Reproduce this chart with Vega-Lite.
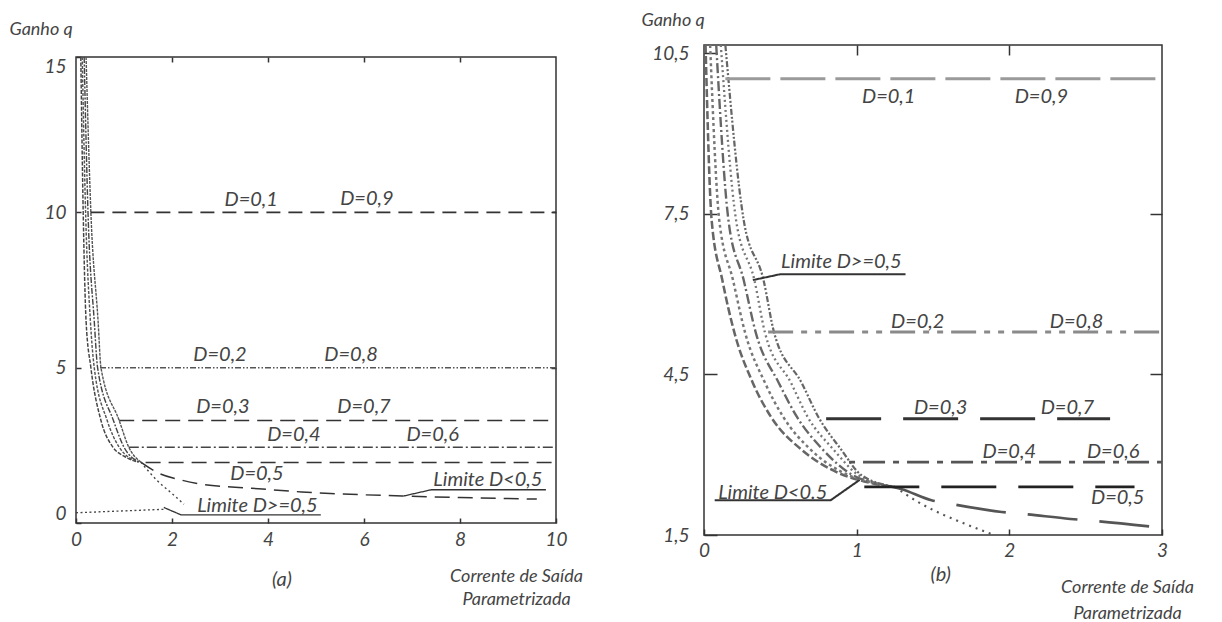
{
  "$schema": "https://vega.github.io/schema/vega-lite/v6.json",
  "background": "white",
  "padding": {"left": 8, "top": 10, "right": 0, "bottom": 0},
  "spacing": 148,
  "bounds": "flush",
  "center": true,
  "datasets": {
    "aLines": [
      {"s": "q10", "x": 0.3, "q": 10}, {"s": "q10", "x": 10, "q": 10},
      {"s": "q5", "x": 0.5, "q": 5}, {"s": "q5", "x": 10, "q": 5},
      {"s": "q33", "x": 0.9, "q": 3.3}, {"s": "q33", "x": 10, "q": 3.3},
      {"s": "q25", "x": 1.1, "q": 2.44}, {"s": "q25", "x": 10, "q": 2.44},
      {"s": "q2", "x": 1.45, "q": 1.95}, {"s": "q2", "x": 10, "q": 1.95},
      {"s": "d05", "x": 1.35, "q": 1.96}, {"s": "d05", "x": 1.7, "q": 1.62}, {"s": "d05", "x": 2.2, "q": 1.38}, {"s": "d05", "x": 2.6, "q": 1.25}, {"s": "d05", "x": 3.65, "q": 1.12}, {"s": "d05", "x": 4.7, "q": 1.0}, {"s": "d05", "x": 5.3, "q": 0.95}, {"s": "d05", "x": 6.8, "q": 0.87}, {"s": "d05", "x": 8.0, "q": 0.82}, {"s": "d05", "x": 9.6, "q": 0.77},
      {"s": "b1", "x": 0.10, "q": 15}, {"s": "b1", "x": 0.15, "q": 10}, {"s": "b1", "x": 0.21, "q": 6.5}, {"s": "b1", "x": 0.31, "q": 5}, {"s": "b1", "x": 0.52, "q": 3.3}, {"s": "b1", "x": 0.77, "q": 2.44}, {"s": "b1", "x": 1.0, "q": 2.15}, {"s": "b1", "x": 1.3, "q": 1.96},
      {"s": "b2", "x": 0.13, "q": 15}, {"s": "b2", "x": 0.2, "q": 10}, {"s": "b2", "x": 0.3, "q": 6.5}, {"s": "b2", "x": 0.38, "q": 5}, {"s": "b2", "x": 0.65, "q": 3.3}, {"s": "b2", "x": 0.9, "q": 2.44}, {"s": "b2", "x": 1.3, "q": 1.96},
      {"s": "b3", "x": 0.17, "q": 15}, {"s": "b3", "x": 0.25, "q": 10}, {"s": "b3", "x": 0.38, "q": 6.5}, {"s": "b3", "x": 0.45, "q": 5}, {"s": "b3", "x": 0.78, "q": 3.3}, {"s": "b3", "x": 1.0, "q": 2.44}, {"s": "b3", "x": 1.32, "q": 1.96},
      {"s": "b4", "x": 0.21, "q": 15}, {"s": "b4", "x": 0.31, "q": 10}, {"s": "b4", "x": 0.46, "q": 6.5}, {"s": "b4", "x": 0.52, "q": 5}, {"s": "b4", "x": 0.9, "q": 3.3}, {"s": "b4", "x": 1.1, "q": 2.44}, {"s": "b4", "x": 1.35, "q": 1.96},
      {"s": "dot", "x": 1.35, "q": 1.96}, {"s": "dot", "x": 1.7, "q": 1.35}, {"s": "dot", "x": 2.0, "q": 0.95}, {"s": "dot", "x": 2.25, "q": 0.6},
      {"s": "zero", "x": 0.0, "q": 0.33}, {"s": "zero", "x": 1.83, "q": 0.44},
      {"s": "lead1", "x": 1.83, "q": 0.5}, {"s": "lead1", "x": 2.19, "q": 0.26}, {"s": "lead1", "x": 5.1, "q": 0.26},
      {"s": "lead2", "x": 6.83, "q": 0.87}, {"s": "lead2", "x": 7.4, "q": 1.07}, {"s": "lead2", "x": 9.79, "q": 1.07}
    ],
    "aText": [
      {"t": "D=0,1", "x": 3.65, "q": 10.4}, {"t": "D=0,9", "x": 6.06, "q": 10.43},
      {"t": "D=0,2", "x": 3.0, "q": 5.4}, {"t": "D=0,8", "x": 5.73, "q": 5.4},
      {"t": "D=0,3", "x": 3.06, "q": 3.73}, {"t": "D=0,7", "x": 6.0, "q": 3.73},
      {"t": "D=0,4", "x": 4.54, "q": 2.83}, {"t": "D=0,6", "x": 7.43, "q": 2.83},
      {"t": "D=0,5", "x": 3.77, "q": 1.58},
      {"t": "Limite D<0,5", "x": 8.58, "q": 1.39},
      {"t": "Limite D>=0,5", "x": 3.78, "q": 0.55},
      {"t": "(a)", "x": 4.29, "q": -1.83}
    ],
    "bLines": [
      {"s": "q10", "x": 0.14, "q": 10.02}, {"s": "q10", "x": 3, "q": 10.02},
      {"s": "q5", "x": 0.42, "q": 5.29}, {"s": "q5", "x": 3, "q": 5.29},
      {"s": "q37", "x": 0.8, "q": 3.67}, {"s": "q37", "x": 2.66, "q": 3.67},
      {"s": "q29", "x": 0.95, "q": 2.86}, {"s": "q29", "x": 3, "q": 2.86},
      {"s": "q24", "x": 1.05, "q": 2.4}, {"s": "q24", "x": 2.82, "q": 2.4},
      {"s": "d05", "x": 1.2, "q": 2.42}, {"s": "d05", "x": 1.29, "q": 2.36}, {"s": "d05", "x": 1.49, "q": 2.15}, {"s": "d05", "x": 1.62, "q": 2.08}, {"s": "d05", "x": 1.95, "q": 1.93}, {"s": "d05", "x": 2.1, "q": 1.89}, {"s": "d05", "x": 2.4, "q": 1.8}, {"s": "d05", "x": 2.57, "q": 1.76}, {"s": "d05", "x": 2.95, "q": 1.65},
      {"s": "b1", "x": 0.01, "q": 10.65}, {"s": "b1", "x": 0.05, "q": 7.38}, {"s": "b1", "x": 0.12, "q": 6.26}, {"s": "b1", "x": 0.2, "q": 5.27}, {"s": "b1", "x": 0.32, "q": 4.34}, {"s": "b1", "x": 0.44, "q": 3.7}, {"s": "b1", "x": 0.64, "q": 3.09}, {"s": "b1", "x": 0.85, "q": 2.7}, {"s": "b1", "x": 1.05, "q": 2.5}, {"s": "b1", "x": 1.2, "q": 2.42},
      {"s": "b2", "x": 0.04, "q": 10.65}, {"s": "b2", "x": 0.1, "q": 7.38}, {"s": "b2", "x": 0.19, "q": 6.26}, {"s": "b2", "x": 0.27, "q": 5.27}, {"s": "b2", "x": 0.4, "q": 4.34}, {"s": "b2", "x": 0.52, "q": 3.7}, {"s": "b2", "x": 0.7, "q": 3.09}, {"s": "b2", "x": 0.9, "q": 2.68}, {"s": "b2", "x": 1.1, "q": 2.48},
      {"s": "b3", "x": 0.08, "q": 10.65}, {"s": "b3", "x": 0.16, "q": 7.38}, {"s": "b3", "x": 0.26, "q": 6.26}, {"s": "b3", "x": 0.34, "q": 5.27}, {"s": "b3", "x": 0.49, "q": 4.34}, {"s": "b3", "x": 0.61, "q": 3.7}, {"s": "b3", "x": 0.78, "q": 3.09}, {"s": "b3", "x": 0.95, "q": 2.66}, {"s": "b3", "x": 1.15, "q": 2.45},
      {"s": "b4", "x": 0.11, "q": 10.65}, {"s": "b4", "x": 0.21, "q": 7.38}, {"s": "b4", "x": 0.33, "q": 6.26}, {"s": "b4", "x": 0.4, "q": 5.27}, {"s": "b4", "x": 0.57, "q": 4.34}, {"s": "b4", "x": 0.68, "q": 3.7}, {"s": "b4", "x": 0.85, "q": 3.09}, {"s": "b4", "x": 1.0, "q": 2.64}, {"s": "b4", "x": 1.2, "q": 2.42},
      {"s": "b5", "x": 0.14, "q": 10.65}, {"s": "b5", "x": 0.26, "q": 7.38}, {"s": "b5", "x": 0.39, "q": 6.26}, {"s": "b5", "x": 0.46, "q": 5.27}, {"s": "b5", "x": 0.64, "q": 4.34}, {"s": "b5", "x": 0.75, "q": 3.7}, {"s": "b5", "x": 0.9, "q": 3.09}, {"s": "b5", "x": 1.03, "q": 2.62}, {"s": "b5", "x": 1.25, "q": 2.4},
      {"s": "dot", "x": 1.25, "q": 2.4}, {"s": "dot", "x": 1.4, "q": 2.12}, {"s": "dot", "x": 1.55, "q": 1.9}, {"s": "dot", "x": 1.7, "q": 1.72}, {"s": "dot", "x": 1.88, "q": 1.52},
      {"s": "lead1", "x": 0.07, "q": 2.15}, {"s": "lead1", "x": 0.83, "q": 2.15}, {"s": "lead1", "x": 1.02, "q": 2.53},
      {"s": "lead2", "x": 0.32, "q": 6.26}, {"s": "lead2", "x": 0.5, "q": 6.37}, {"s": "lead2", "x": 1.32, "q": 6.37}
    ],
    "bText": [
      {"t": "D=0,1", "x": 1.21, "q": 9.68}, {"t": "D=0,9", "x": 2.21, "q": 9.68},
      {"t": "D=0,2", "x": 1.4, "q": 5.48}, {"t": "D=0,8", "x": 2.44, "q": 5.48},
      {"t": "D=0,3", "x": 1.55, "q": 3.87}, {"t": "D=0,7", "x": 2.38, "q": 3.87},
      {"t": "D=0,4", "x": 2.0, "q": 3.05}, {"t": "D=0,6", "x": 2.68, "q": 3.05},
      {"t": "D=0,5", "x": 2.71, "q": 2.19},
      {"t": "Limite D<0.5", "x": 0.45, "q": 2.29},
      {"t": "Limite D>=0,5", "x": 0.9, "q": 6.6},
      {"t": "(b)", "x": 1.55, "q": 0.75}
    ]
  },
  "hconcat": [
    {
      "width": 480,
      "height": 466,
      "layer": [
        {
          "data": {"name": "aLines"},
          "transform": [{"filter": {"field": "s", "oneOf": ["d05", "b1", "b2", "b3", "b4", "dot"]}}],
          "mark": {"type": "line", "interpolate": "monotone"},
          "encoding": {
            "x": {"field": "x", "type": "quantitative", "scale": {"domain": [0, 10], "nice": false, "zero": false},
              "axis": {"orient": "bottom", "values": [0, 2, 4, 6, 8, 10], "tickSize": -5, "labelPadding": 12, "labelFlush": false,
                "title": ["Corrente de Saída", "Parametrizada"], "titleX": 440, "titleY": 44, "titleAlign": "center", "titleBaseline": "top", "titleLineHeight": 23}},
            "y": {"field": "q", "type": "quantitative", "scale": {"domain": [0, 15], "nice": false, "zero": false},
              "axis": {"orient": "left", "values": [0, 5, 10, 15], "tickSize": -5, "labelPadding": 15, "labelFlush": true,
                "title": "Ganho q", "titleAngle": 0, "titleAlign": "left", "titleBaseline": "middle", "titleX": -67, "titleY": -28}},
            "detail": {"field": "s"},
            "color": {"field": "s", "type": "nominal", "legend": null, "scale": {"domain": ["q10","q5","q33","q25","q2","d05","b1","b2","b3","b4","dot","zero","lead1","lead2"], "range": ["#333","#555","#333","#444","#333","#333","#444","#555","#444","#555","#444","#444","#333","#333"]}},
            "strokeDash": {"field": "s", "type": "nominal", "legend": null, "scale": {"domain": ["q10","q5","q33","q25","q2","d05","b1","b2","b3","b4","dot","zero","lead1","lead2"], "range": [[14,8],[6,2,1.5,2,1.5,2],[15,8],[10,3,2,3],[15,8],[15,8],[4,1.5],[3,1.5],[6,1.5,2,1.5],[3,1],[2,3],[2,2.5],[1,0],[1,0]]}},
            "strokeWidth": {"field": "s", "type": "nominal", "legend": null, "scale": {"domain": ["q10","q5","q33","q25","q2","d05","b1","b2","b3","b4","dot","zero","lead1","lead2"], "range": [1.6,1.3,1.8,1.5,1.8,1.6,2.2,2.2,2.2,2.2,1.4,1.4,1.5,1.5]}}
          }
        },
        {
          "data": {"name": "aLines"},
          "transform": [{"filter": {"not": {"field": "s", "oneOf": ["d05", "b1", "b2", "b3", "b4", "dot"]}}}],
          "mark": {"type": "line", "interpolate": "linear"},
          "encoding": {
            "x": {"field": "x", "type": "quantitative", "axis": null},
            "y": {"field": "q", "type": "quantitative", "axis": null},
            "detail": {"field": "s"},
            "color": {"field": "s", "type": "nominal", "legend": null},
            "strokeDash": {"field": "s", "type": "nominal", "legend": null},
            "strokeWidth": {"field": "s", "type": "nominal", "legend": null}
          }
        },
        {
          "data": {"name": "aText"},
          "mark": {"type": "text", "font": "Lato", "fontStyle": "italic", "fontSize": 20, "color": "#444", "align": "center", "baseline": "middle"},
          "encoding": {
            "x": {"field": "x", "type": "quantitative", "axis": {"orient": "top", "values": [2, 4, 6, 8], "labels": false, "title": null, "tickSize": -5}},
            "y": {"field": "q", "type": "quantitative", "axis": {"orient": "right", "values": [5, 10], "labels": false, "title": null, "tickSize": -5}},
            "text": {"field": "t"}
          }
        }
      ],
      "resolve": {"axis": {"x": "independent", "y": "independent"}}
    },
    {
      "width": 458,
      "height": 490,
      "layer": [
        {
          "data": {"name": "bLines"},
          "transform": [{"filter": {"field": "s", "oneOf": ["d05", "b1", "b2", "b3", "b4", "b5", "dot"]}}],
          "mark": {"type": "line", "interpolate": "monotone"},
          "encoding": {
            "x": {"field": "x", "type": "quantitative", "scale": {"domain": [0, 3], "nice": false, "zero": false},
              "axis": {"orient": "bottom", "values": [0, 1, 2, 3], "tickSize": -6, "labelPadding": 12, "labelFlush": false,
                "title": ["Corrente de Saída", "Parametrizada"], "titleX": 423, "titleY": 43, "titleAlign": "center", "titleBaseline": "top", "titleLineHeight": 26}},
            "y": {"field": "q", "type": "quantitative", "scale": {"domain": [1.5, 10.65], "nice": false, "zero": false},
              "axis": {"orient": "left", "values": [1.5, 4.5, 7.5, 10.5], "tickSize": -13, "labelPadding": 28, "labelFlush": false,
                "labelExpr": "replace(format(datum.value, '.1f'), '.', ',')",
                "title": "Ganho q", "titleAngle": 0, "titleAlign": "left", "titleBaseline": "middle", "titleX": -63, "titleY": -25}},
            "detail": {"field": "s"},
            "color": {"field": "s", "type": "nominal", "legend": null, "scale": {"domain": ["q10","q5","q37","q29","q24","d05","b1","b2","b3","b4","b5","dot","lead1","lead2"], "range": ["#9a9a9a","#8a8a8a","#333","#555","#222","#555","#666","#777","#666","#777","#666","#555","#333","#333"]}},
            "strokeDash": {"field": "s", "type": "nominal", "legend": null, "scale": {"domain": ["q10","q5","q37","q29","q24","d05","b1","b2","b3","b4","b5","dot","lead1","lead2"], "range": [[45,10],[25,8,6,8,6,8],[55,22],[6,8,22,8],[55,22],[50,22],[8,3],[3,3],[10,3,2,3],[2,3],[6,2,2,2,2,2],[2,5],[1,0],[1,0]]}},
            "strokeWidth": {"field": "s", "type": "nominal", "legend": null, "scale": {"domain": ["q10","q5","q37","q29","q24","d05","b1","b2","b3","b4","b5","dot","lead1","lead2"], "range": [3,2,1.6,2,2,1.4,1.3,1.3,1.3,1.3,1.3,1.5,1.5,1.5]}}
          }
        },
        {
          "data": {"name": "bLines"},
          "transform": [{"filter": {"not": {"field": "s", "oneOf": ["d05", "b1", "b2", "b3", "b4", "b5", "dot"]}}}],
          "mark": {"type": "line", "interpolate": "linear"},
          "encoding": {
            "x": {"field": "x", "type": "quantitative", "axis": null},
            "y": {"field": "q", "type": "quantitative", "axis": null},
            "detail": {"field": "s"},
            "color": {"field": "s", "type": "nominal", "legend": null},
            "strokeDash": {"field": "s", "type": "nominal", "legend": null},
            "strokeWidth": {"field": "s", "type": "nominal", "legend": null}
          }
        },
        {
          "data": {"name": "bText"},
          "mark": {"type": "text", "font": "Lato", "fontStyle": "italic", "fontSize": 20, "color": "#444", "align": "center", "baseline": "middle"},
          "encoding": {
            "x": {"field": "x", "type": "quantitative", "axis": {"orient": "top", "values": [1, 2], "labels": false, "title": null, "tickSize": -10}},
            "y": {"field": "q", "type": "quantitative", "axis": {"orient": "right", "values": [4.5, 7.5], "labels": false, "title": null, "tickSize": -12}},
            "text": {"field": "t"}
          }
        }
      ],
      "resolve": {"axis": {"x": "independent", "y": "independent"}}
    }
  ],
  "resolve": {"scale": {"x": "independent", "y": "independent", "color": "independent", "strokeDash": "independent", "strokeWidth": "independent"}},
  "config": {
    "view": {"stroke": "#333", "strokeWidth": 1.5},
    "axis": {
      "domain": false, "grid": false,
      "tickColor": "#333", "tickWidth": 1.5,
      "labelFont": "Lato", "labelFontStyle": "italic", "labelFontSize": 19, "labelColor": "#444",
      "titleFont": "Lato", "titleFontStyle": "italic", "titleFontWeight": "normal", "titleFontSize": 18, "titleColor": "#444"
    }
  }
}
